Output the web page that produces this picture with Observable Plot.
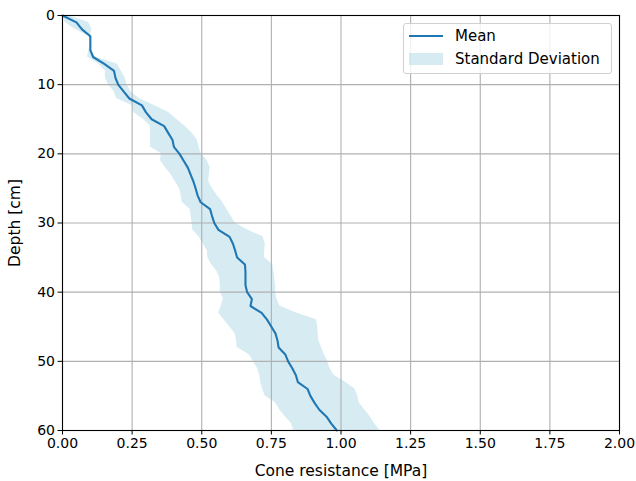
<!DOCTYPE html>
<html><head><meta charset="utf-8">
<script src="https://cdn.jsdelivr.net/npm/d3@7"></script>
<script src="https://cdn.jsdelivr.net/npm/@observablehq/plot@0.6"></script>
<style>
body{margin:0;background:#fff;}
#wrap{position:relative;width:636px;height:481px;font-family:"DejaVu Sans",sans-serif;}
#legend{position:absolute;left:403px;top:23px;width:209px;height:51px;border:1px solid #d0d0d0;border-radius:3px;background:rgba(255,255,255,0.8);box-sizing:border-box;font-size:15px;color:#000;}
.row{position:absolute;left:5px;height:16px;display:flex;align-items:center;}
.lineSample{width:34px;height:2px;background:#1f77b4;margin-right:12px;}
.patchSample{width:34px;height:12px;background:rgba(173,216,230,0.5);margin-right:12px;}
</style></head><body><div id="wrap"></div>
<script>
const depth = [0,1,2,3,4,5,6,7,8,9,10,11,12,13,14,15,16,17,18,19,20,21,22,23,24,25,26,27,28,29,30,31,32,33,34,35,36,37,38,39,40,41,42,43,44,45,46,47,48,49,50,51,52,53,54,55,56,57,58,59,60];
const meanValues = [0.00,0.05,0.07,0.10,0.10,0.10,0.11,0.15,0.185,0.19,0.20,0.22,0.24,0.285,0.30,0.32,0.365,0.38,0.395,0.40,0.42,0.435,0.45,0.46,0.47,0.478,0.485,0.496,0.53,0.537,0.545,0.56,0.60,0.612,0.62,0.627,0.655,0.657,0.657,0.657,0.663,0.68,0.675,0.715,0.735,0.75,0.765,0.772,0.776,0.80,0.81,0.825,0.838,0.845,0.88,0.89,0.905,0.922,0.948,0.965,0.985];
const lowerValues = [0.00,0.01,0.045,0.095,0.10,0.095,0.09,0.13,0.154,0.154,0.165,0.185,0.195,0.25,0.255,0.29,0.316,0.316,0.316,0.316,0.355,0.352,0.37,0.39,0.405,0.42,0.426,0.43,0.458,0.462,0.465,0.468,0.49,0.505,0.52,0.522,0.535,0.555,0.565,0.567,0.567,0.578,0.57,0.561,0.58,0.60,0.62,0.625,0.627,0.67,0.685,0.70,0.708,0.712,0.718,0.728,0.765,0.78,0.80,0.822,0.83];
const upperValues = [0.02,0.094,0.105,0.10,0.10,0.10,0.118,0.196,0.21,0.225,0.232,0.245,0.275,0.33,0.38,0.41,0.44,0.465,0.484,0.49,0.498,0.52,0.53,0.527,0.525,0.538,0.555,0.575,0.59,0.605,0.62,0.665,0.72,0.728,0.726,0.725,0.755,0.759,0.762,0.765,0.765,0.77,0.78,0.84,0.912,0.916,0.918,0.92,0.93,0.94,0.952,0.96,0.975,1.015,1.05,1.06,1.065,1.085,1.105,1.12,1.14];
const xTicks = [0,0.25,0.5,0.75,1,1.25,1.5,1.75,2];
const yTicks = [0,10,20,30,40,50,60];
const xLabel = "Cone resistance [MPa]";
const yLabel = "Depth [cm]";
const legendLabels = ["Mean","Standard Deviation"];

const rows = depth.map((d,i)=>({depth:d, mean:meanValues[i], lower:lowerValues[i], upper:upperValues[i]}));

const chart = Plot.plot({
  width:636, height:481,
  marginLeft:62, marginRight:17, marginTop:15, marginBottom:51,
  style:{fontFamily:"DejaVu Sans, sans-serif", fontSize:"14px", color:"#000", background:"#fff", overflow:"visible"},
  x:{domain:[0,2]},
  y:{domain:[0,60], reverse:true},
  marks:[
    Plot.areaX(rows,{y:"depth", x1:"lower", x2:"upper", fill:"#add8e6", fillOpacity:0.5, curve:"linear"}),
    Plot.gridX(xTicks,{stroke:"#b0b0b0", strokeOpacity:1, strokeWidth:1.1}),
    Plot.gridY(yTicks,{stroke:"#b0b0b0", strokeOpacity:1, strokeWidth:1.1}),
    Plot.line(rows,{x:"mean", y:"depth", stroke:"#1f77b4", strokeWidth:2.1, curve:"linear"}),
    Plot.frame({stroke:"#000", strokeWidth:1.1}),
    Plot.axisX(xTicks,{tickFormat:d3.format(".2f"), tickSize:4.5, tickPadding:3, stroke:"#000", label:null, fontSize:14}),
    Plot.axisX({label:xLabel, labelAnchor:"center", labelArrow:"none", labelOffset:45, ticks:[], tickSize:0, fontSize:15.5}),
    Plot.axisY(yTicks,{tickSize:4.5, tickPadding:3, stroke:"#000", label:null, fontSize:14}),
    Plot.axisY({label:yLabel, labelAnchor:"center", labelArrow:"none", labelOffset:54, ticks:[], tickSize:0, fontSize:15.5})
  ]
});
const wrap = document.getElementById("wrap");
wrap.appendChild(chart);
const legend = document.createElement("div");
legend.id = "legend";
legend.innerHTML = `<div class="row" style="top:4px"><div class="lineSample"></div><span>${legendLabels[0]}</span></div>
<div class="row" style="top:27px"><div class="patchSample"></div><span>${legendLabels[1]}</span></div>`;
wrap.appendChild(legend);
</script>
</body></html>
